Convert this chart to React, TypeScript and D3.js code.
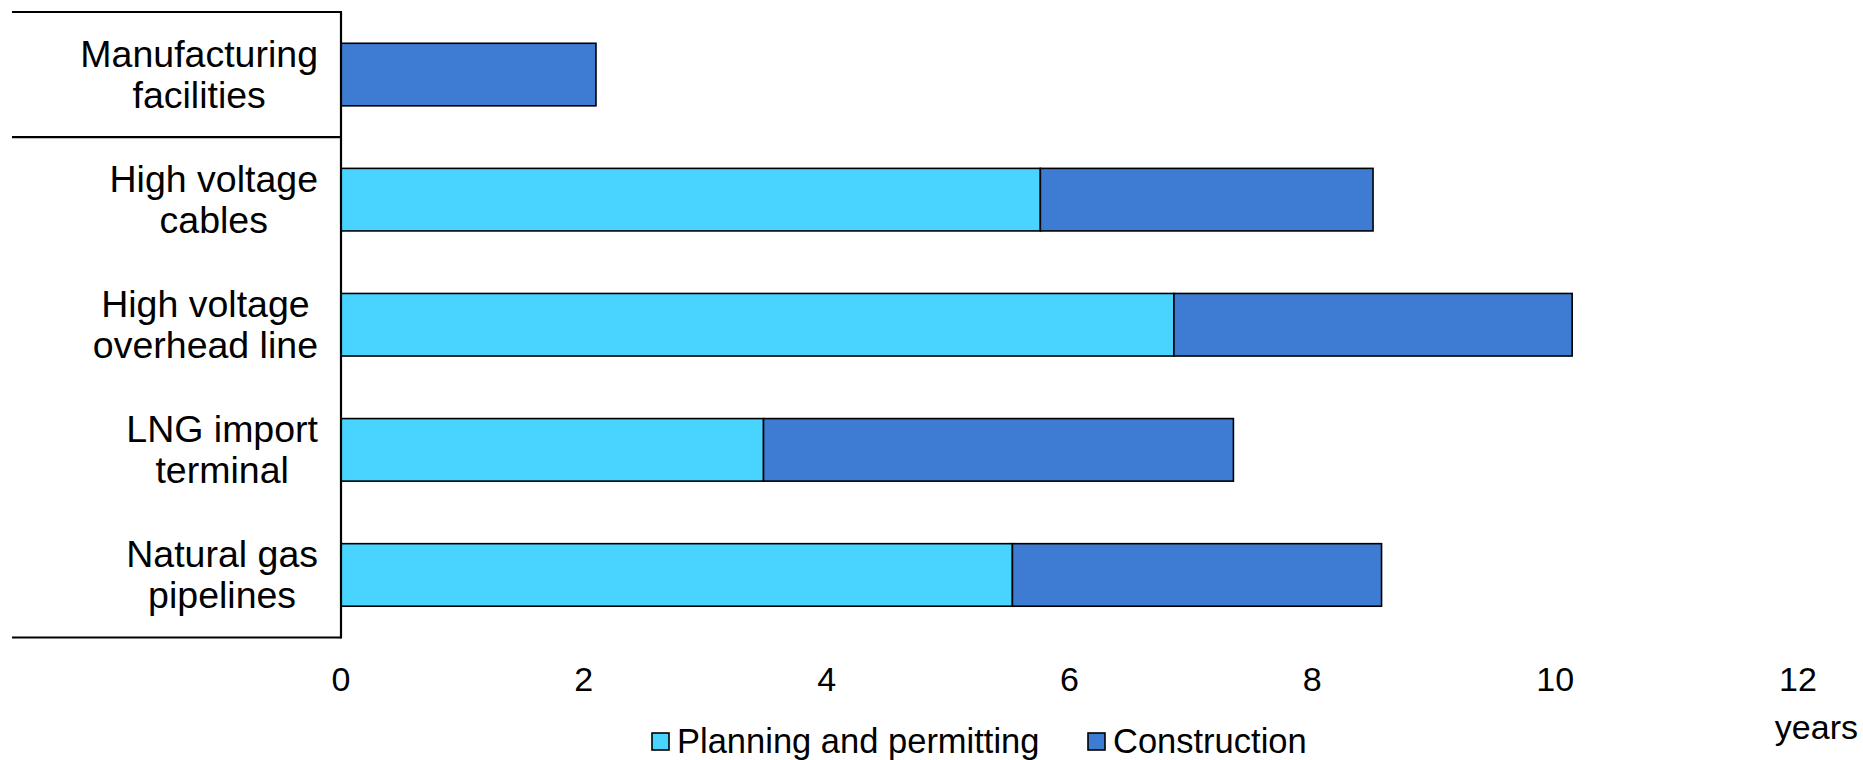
import React, { useEffect, useRef } from "react";
import * as d3 from "d3";

const categoryLines: string[][] = [
  ["Manufacturing", "facilities"],
  ["High voltage", "cables"],
  ["High voltage", "overhead line"],
  ["LNG import", "terminal"],
  ["Natural gas", "pipelines"],
];
const planning = [0, 5.76, 6.86, 3.48, 5.53];
const construction = [2.1, 2.74, 3.28, 3.87, 3.04];
const xTicks = [0, 2, 4, 6, 8, 10, 12];
const seriesNames = ["Planning and permitting", "Construction"];
const seriesColors = ["#48D4FF", "#3E7CD3"];

const W = 1863;
const H = 760;
const FONT = "'Liberation Sans', Arial, sans-serif";

export default function App() {
  const ref = useRef<SVGSVGElement | null>(null);

  useEffect(() => {
    const svg = d3.select(ref.current);
    svg.selectAll("*").remove();

    const x = d3.scaleLinear().domain([0, 12]).range([341, 1798]);
    const idx = categoryLines.map((_, i) => String(i));
    const y = d3.scaleBand().domain(idx).range([12, 637.5]).paddingInner(0.5).paddingOuter(0.25);
    const yOuter = d3.scaleBand().domain(idx).range([12, 637.5]);

    // bars
    const g = svg.append("g");
    categoryLines.forEach((_, i) => {
      const y0 = y(String(i))!;
      const bh = y.bandwidth();
      const p = planning[i];
      const c = construction[i];
      if (p > 0) {
        g.append("rect")
          .attr("x", x(0))
          .attr("y", y0)
          .attr("width", x(p) - x(0))
          .attr("height", bh)
          .attr("fill", seriesColors[0])
          .attr("stroke", "#000")
          .attr("stroke-width", 1.6);
      }
      g.append("rect")
        .attr("x", x(p))
        .attr("y", y0)
        .attr("width", x(p + c) - x(p))
        .attr("height", bh)
        .attr("fill", seriesColors[1])
        .attr("stroke", "#000")
        .attr("stroke-width", 1.6);
    });

    // axis lines
    const axisG = svg.append("g").attr("stroke", "#000").attr("stroke-width", 2.2);
    axisG.append("line").attr("x1", x(0)).attr("x2", x(0)).attr("y1", 11).attr("y2", 638.5);
    axisG.append("line").attr("x1", 12).attr("x2", x(0)).attr("y1", 12).attr("y2", 12);
    axisG.append("line").attr("x1", 12).attr("x2", x(0)).attr("y1", yOuter("1")!).attr("y2", yOuter("1")!);
    axisG.append("line").attr("x1", 12).attr("x2", x(0)).attr("y1", 637.5).attr("y2", 637.5);

    // category labels
    const labelRight = 318;
    categoryLines.forEach((lines, i) => {
      const cy = yOuter(String(i))! + yOuter.bandwidth() / 2;
      const texts = lines.map((ln, j) =>
        svg
          .append("text")
          .attr("y", cy - 8 + j * 41)
          .attr("font-family", FONT)
          .attr("font-size", 37.5)
          .attr("fill", "#000")
          .attr("text-anchor", "middle")
          .text(ln)
      );
      const widths = texts.map((t) => (t.node() as SVGTextElement).getComputedTextLength());
      const maxW = Math.max(...widths);
      const center = labelRight - maxW / 2;
      texts.forEach((t) => t.attr("x", center));
    });

    // tick labels
    svg
      .append("g")
      .selectAll("text")
      .data(xTicks)
      .join("text")
      .attr("x", (d) => x(d))
      .attr("y", 691)
      .attr("text-anchor", "middle")
      .attr("font-family", FONT)
      .attr("font-size", 34)
      .attr("fill", "#000")
      .text((d) => String(d));

    svg
      .append("text")
      .attr("x", 1858)
      .attr("y", 739)
      .attr("text-anchor", "end")
      .attr("font-family", FONT)
      .attr("font-size", 34)
      .attr("fill", "#000")
      .text("years");

    // legend
    const legendX = [652, 1088];
    seriesNames.forEach((name, i) => {
      svg
        .append("rect")
        .attr("x", legendX[i])
        .attr("y", 733)
        .attr("width", 17)
        .attr("height", 17)
        .attr("fill", seriesColors[i])
        .attr("stroke", "#000")
        .attr("stroke-width", 1.6);
      svg
        .append("text")
        .attr("x", legendX[i] + 25)
        .attr("y", 753)
        .attr("font-family", FONT)
        .attr("font-size", 34.5)
        .attr("fill", "#000")
        .text(name);
    });
  }, []);

  return (
    <svg
      ref={ref}
      width={W}
      height={H}
      style={{ position: "absolute", left: 0, top: 0, background: "#fff" }}
    />
  );
}
